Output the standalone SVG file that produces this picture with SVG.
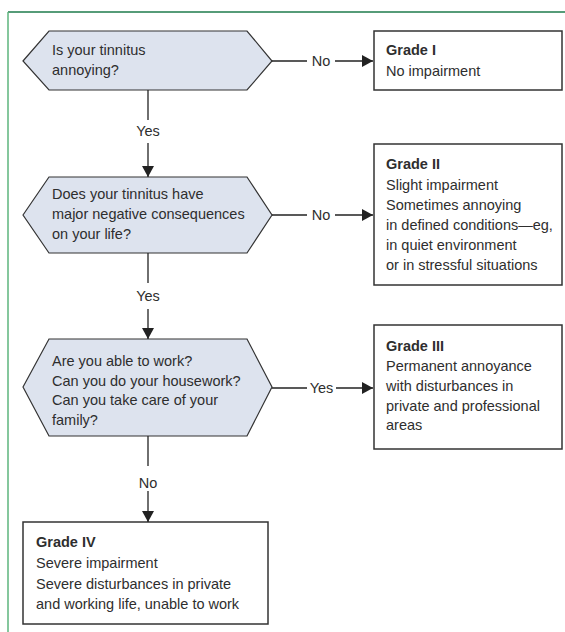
<svg xmlns="http://www.w3.org/2000/svg" width="565" height="632" viewBox="0 0 565 632">
<style>
text{font-family:"Liberation Sans",Arial,sans-serif;font-size:14.5px;fill:#2e2e2e}
.b{font-weight:bold}
.hex{fill:#dde3ee;stroke:#333;stroke-width:1.2}
.box{fill:#fff;stroke:#333;stroke-width:1.5}
.ln{stroke:#222;stroke-width:1.3;fill:none}
.lbl{text-anchor:middle}
</style>
<defs>
<marker id="ah" viewBox="0 0 11 12" refX="11" refY="6" markerWidth="11" markerHeight="12" markerUnits="userSpaceOnUse" orient="auto">
<path d="M0,0 L11,6 L0,12 z" fill="#222"/>
</marker>
</defs>
<rect width="565" height="632" fill="#fff"/>
<g id="frame">
<line x1="8" y1="12" x2="565" y2="12" stroke="#1e7b4b" stroke-width="1.5"/>
<line x1="8" y1="12" x2="8" y2="632" stroke="#5cb57c" stroke-width="1.5"/>
</g>
<g id="q1">
<polygon class="hex" points="23,61 49,31 247,31 272,61 247,90 49,90"/>
<text x="52" y="55">Is your tinnitus</text>
<text x="52" y="75">annoying?</text>
</g>
<g id="g1">
<rect class="box" x="374" y="31" width="188" height="59"/>
<text class="b" x="386" y="55">Grade I</text>
<text x="386" y="76">No impairment</text>
</g>
<g id="q2">
<polygon class="hex" points="23,215 49,177 247,177 272,215 247,253 49,253"/>
<text x="52" y="199">Does your tinnitus have</text>
<text x="52" y="219">major negative consequences</text>
<text x="52" y="239">on your life?</text>
</g>
<g id="g2">
<rect class="box" x="374" y="144" width="188" height="141"/>
<text class="b" x="386" y="169">Grade II</text>
<text x="386" y="189.5">Slight impairment</text>
<text x="386" y="209.5">Sometimes annoying</text>
<text x="386" y="229.5">in defined conditions—eg,</text>
<text x="386" y="249.5">in quiet environment</text>
<text x="386" y="269.5">or in stressful situations</text>
</g>
<g id="q3">
<polygon class="hex" points="23,387 49,339 247,339 272,387 247,436 49,436"/>
<text x="52" y="366">Are you able to work?</text>
<text x="52" y="385.5">Can you do your housework?</text>
<text x="52" y="405">Can you take care of your</text>
<text x="52" y="424.5">family?</text>
</g>
<g id="g3">
<rect class="box" x="374" y="325" width="188" height="124"/>
<text class="b" x="386" y="351">Grade III</text>
<text x="386" y="371">Permanent annoyance</text>
<text x="386" y="391">with disturbances in</text>
<text x="386" y="410.5">private and professional</text>
<text x="386" y="430">areas</text>
</g>
<g id="g4">
<rect class="box" x="23" y="522" width="245" height="102"/>
<text class="b" x="36" y="547">Grade IV</text>
<text x="36" y="568">Severe impairment</text>
<text x="36" y="588.5">Severe disturbances in private</text>
<text x="36" y="609">and working life, unable to work</text>
</g>
<g id="connectors">
<line class="ln" x1="272" y1="61" x2="307" y2="61"/>
<line class="ln" x1="335" y1="61" x2="373" y2="61" marker-end="url(#ah)"/>
<text class="lbl" x="321" y="66">No</text>
<line class="ln" x1="148" y1="90" x2="148" y2="120"/>
<line class="ln" x1="148" y1="143" x2="148" y2="177" marker-end="url(#ah)"/>
<text class="lbl" x="148" y="136">Yes</text>
<line class="ln" x1="272" y1="215" x2="307" y2="215"/>
<line class="ln" x1="335" y1="215" x2="373" y2="215" marker-end="url(#ah)"/>
<text class="lbl" x="321" y="220">No</text>
<line class="ln" x1="148" y1="253" x2="148" y2="283"/>
<line class="ln" x1="148" y1="309" x2="148" y2="339" marker-end="url(#ah)"/>
<text class="lbl" x="148" y="301">Yes</text>
<line class="ln" x1="272" y1="388" x2="307" y2="388"/>
<line class="ln" x1="336" y1="388" x2="373" y2="388" marker-end="url(#ah)"/>
<text class="lbl" x="321.5" y="393">Yes</text>
<line class="ln" x1="148" y1="436" x2="148" y2="466"/>
<line class="ln" x1="148" y1="491" x2="148" y2="522" marker-end="url(#ah)"/>
<text class="lbl" x="148" y="488">No</text>
</g>
</svg>
